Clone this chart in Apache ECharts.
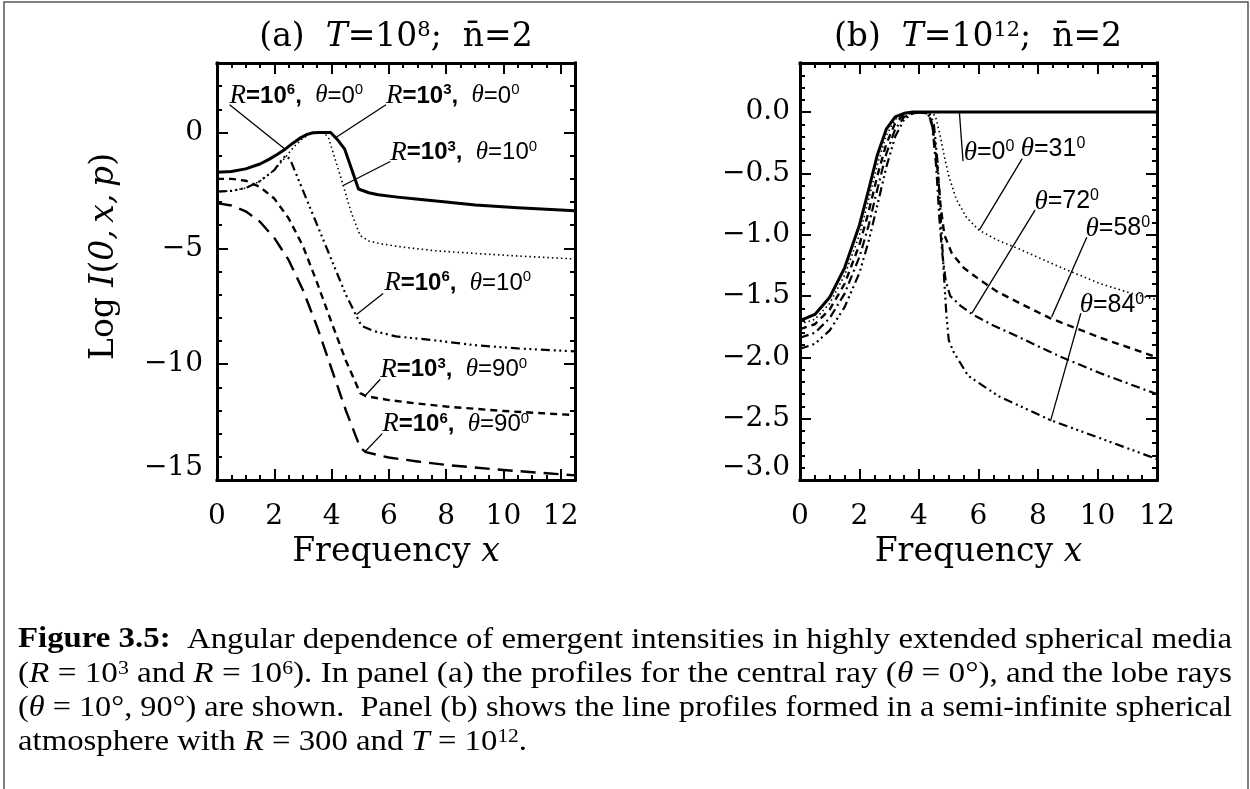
<!DOCTYPE html>
<html>
<head>
<meta charset="utf-8">
<title>Angular dependence of emergent intensities</title>
<script src="https://cdn.jsdelivr.net/npm/echarts@6.0.0/dist/echarts.min.js"></script>
<style>
  html, body { margin: 0; padding: 0; background: #fff; }
  #fig { width: 1250px; height: 789px; }
</style>
</head>
<body>
<div id="fig"></div>
<script>
// ---------- Panel (a): T = 1e8, n̄ = 2  (x, log I) ----------
const aR3Theta0 = [[0,-1.72],[0.5,-1.68],[1.0,-1.57],[1.5,-1.36],[1.83,-1.15],[2.1,-0.95],[2.38,-0.72],
  [2.65,-0.46],[2.93,-0.22],[3.15,-0.08],[3.35,-0.01],[3.6,0],[3.97,0],[4.2,-0.3],[4.46,-0.72],[4.94,-2.44],
  [5.3,-2.6],[5.63,-2.69],[6.3,-2.79],[6.95,-2.87],[8,-3.0],[9.02,-3.13],[10.5,-3.25],[12.5,-3.38]];
const aR3Theta10 = [[0,-2.55],[0.5,-2.52],[1.0,-2.4],[1.5,-2.1],[2.0,-1.62],[2.4,-1.05],[2.7,-0.6],[3.0,-0.25],
  [3.25,-0.06],[3.5,0],[3.75,-0.02],[3.9,-0.25],[4.3,-1.85],[4.7,-3.5],[5.0,-4.45],[5.3,-4.68],[5.7,-4.8],
  [6.5,-4.95],[7.6,-5.1],[9,-5.22],[10.5,-5.33],[12.5,-5.46]];
const aR6Theta10 = [[0,-2.55],[0.5,-2.52],[1.0,-2.4],[1.5,-2.1],[2.0,-1.62],[2.25,-1.2],[2.4,-1.0],[2.55,-1.15],
  [3.0,-2.5],[3.5,-4.0],[4.0,-5.5],[4.5,-7.0],[4.9,-8.0],[5.05,-8.35],[5.5,-8.58],[6.25,-8.8],[7.6,-8.97],
  [9,-9.18],[10.5,-9.32],[12.5,-9.45]];
const aR3Theta90 = [[0,-2.0],[0.5,-2.0],[1.0,-2.08],[1.5,-2.35],[2.0,-2.85],[2.5,-3.7],[3.0,-4.9],[3.5,-6.5],
  [4.0,-8.2],[4.5,-9.85],[5.0,-11.25],[5.2,-11.38],[6,-11.55],[7,-11.7],[8,-11.83],[10,-12.02],[12.5,-12.2]];
const aR6Theta90 = [[0,-3.05],[0.5,-3.15],[1.0,-3.4],[1.5,-3.85],[2.0,-4.55],[2.5,-5.5],[3.0,-6.8],[3.5,-8.4],
  [4.0,-10.2],[4.5,-12.0],[5.0,-13.6],[5.2,-13.8],[6,-14.03],[7,-14.2],[8,-14.35],[10,-14.57],[12.5,-14.8]];

// ---------- Panel (b): T = 1e12, n̄ = 2, R = 300 ----------
const bTheta0 = [[0,-1.70],[0.5,-1.65],[1.0,-1.51],[1.5,-1.27],[2.0,-0.92],[2.3,-0.64],[2.6,-0.35],[2.9,-0.14],
  [3.2,-0.04],[3.5,-0.01],[3.8,0],[12,0]];
const bTheta31 = [[0,-1.73],[0.5,-1.69],[1.0,-1.56],[1.5,-1.33],[2.0,-1.0],[2.3,-0.72],[2.6,-0.43],[2.9,-0.19],
  [3.2,-0.06],[3.5,-0.01],[3.9,0],[4.35,0],[4.55,-0.03],[4.7,-0.18],[4.85,-0.36],[5.0,-0.52],[5.25,-0.71],
  [5.6,-0.86],[6.0,-0.96],[6.6,-1.04],[7.4,-1.12],[8.7,-1.26],[10.1,-1.4],[11.3,-1.49],[12,-1.53]];
const bTheta58 = [[0,-1.77],[0.5,-1.73],[1.0,-1.61],[1.5,-1.4],[2.0,-1.08],[2.3,-0.82],[2.6,-0.52],[2.9,-0.26],
  [3.2,-0.09],[3.5,-0.02],[3.9,0],[4.3,-0.01],[4.45,-0.1],[4.6,-0.4],[4.72,-0.75],[4.85,-1.0],[5.1,-1.15],
  [5.5,-1.27],[6.0,-1.36],[6.6,-1.46],[7.4,-1.56],[8.4,-1.68],[10.1,-1.84],[12,-2.0]];
const bTheta72 = [[0,-1.84],[0.5,-1.8],[1.0,-1.68],[1.5,-1.48],[2.0,-1.18],[2.3,-0.93],[2.6,-0.63],[2.9,-0.34],
  [3.2,-0.14],[3.5,-0.04],[3.9,0],[4.3,-0.01],[4.45,-0.12],[4.58,-0.45],[4.68,-0.85],[4.78,-1.15],[4.9,-1.38],
  [5.05,-1.5],[5.4,-1.58],[5.8,-1.65],[6.5,-1.74],[7.4,-1.84],[8.8,-2.0],[10.1,-2.13],[12,-2.3]];
const bTheta84 = [[0,-1.93],[0.5,-1.89],[1.0,-1.78],[1.5,-1.59],[2.0,-1.31],[2.3,-1.06],[2.6,-0.76],[2.9,-0.45],
  [3.2,-0.2],[3.5,-0.06],[3.8,-0.01],[4.1,0],[4.35,-0.01],[4.5,-0.1],[4.62,-0.4],[4.73,-0.85],[4.83,-1.3],
  [4.92,-1.65],[5.0,-1.86],[5.15,-1.95],[5.65,-2.15],[6.7,-2.32],[8.4,-2.51],[10.1,-2.66],[12,-2.83]];

// ---------- Axis ranges and tick steps ----------
const xRangeA = [0, 12.5], yRangeA = [-15, 3];
const xRangeB = [0, 12],   yRangeB = [-3, 0.4];
const xStep = 2, xMinorStep = 0.5;
const yStepA = 5, yMinorStepA = 1;
const yStepB = 0.5, yMinorStepB = 0.1;

// ---------- Curve annotations (label anchor, leader line from -> to) ----------
const notesA = [
  { r: '6', t: '0',  at: [0.44, 1.58],  from: [0.44, 1.2],   to: [2.38, -0.72] },
  { r: '3', t: '0',  at: [5.9, 1.58],   from: [5.9, 1.2],    to: [4.11, -0.25] },
  { r: '3', t: '10', at: [6.05, -0.86], from: [6.05, -1.25], to: [4.39, -2.3] },
  { r: '6', t: '10', at: [5.84, -6.5],  from: [5.8, -6.95],  to: [4.87, -7.86] },
  { r: '3', t: '90', at: [5.7, -10.24], from: [5.7, -10.65], to: [5.18, -11.35] },
  { r: '6', t: '90', at: [5.77, -12.6], from: [5.77, -13.0], to: [5.15, -13.8] }
];
const notesB = [
  { t: '0',  at: [5.5, -0.33],  from: [5.36, -0.01], to: [5.48, -0.4] },
  { t: '31', at: [7.42, -0.30], from: [7.47, -0.38], to: [6.03, -0.96] },
  { t: '72', at: [7.88, -0.73], from: [7.9, -0.8],   to: [5.78, -1.64] },
  { t: '58', at: [9.6, -0.95],  from: [9.64, -1.02], to: [8.46, -1.67] },
  { t: '84', at: [9.4, -1.57],  from: [9.44, -1.64], to: [8.42, -2.52] }
];

const SERIF = "'DejaVu Serif', serif";
const SANS = "'Liberation Sans', Arial, sans-serif";
const TIMES = "'Liberation Serif', serif";
const MINUS = '\u2212';

// Four axes per side: labelled major, mirrored major, and the two minor-tick axes.
function frameAxes(grid, range, major, minor, horizontal, label, nameCfg) {
  const sideA = horizontal ? 'bottom' : 'left';
  const sideB = horizontal ? 'top' : 'right';
  const base = { type: 'value', gridIndex: grid, min: range[0], max: range[1],
    splitLine: { show: false }, splitArea: { show: false }, minorTick: { show: false }, axisPointer: { show: false } };
  const tick = len => ({ show: true, inside: true, length: len, lineStyle: { color: '#000', width: 2 } });
  const line = show => ({ show: show, onZero: false, lineStyle: { color: '#000', width: 3, cap: 'square' } });
  return [
    Object.assign({}, base, { position: sideA, interval: major, axisLine: line(true), axisTick: tick(11), axisLabel: label }, nameCfg || {}),
    Object.assign({}, base, { position: sideB, interval: major, axisLine: line(true), axisTick: tick(11), axisLabel: { show: false } }),
    Object.assign({}, base, { position: sideA, interval: minor, axisLine: line(false), axisTick: tick(5), axisLabel: { show: false } }),
    Object.assign({}, base, { position: sideB, interval: minor, axisLine: line(false), axisTick: tick(5), axisLabel: { show: false } })
  ];
}

const tickFont = { color: '#000', fontFamily: SERIF, fontSize: 28 };
const lowRich = { lo: { color: '#000', fontFamily: SERIF, fontSize: 28, padding: [0, 0, 24, 0] } };

const xLabel = () => Object.assign({ show: true, margin: 23, showMinLabel: true, showMaxLabel: true,
  formatter: v => (Math.abs(v % 2) < 1e-9 && v <= 12) ? String(v) : '' }, tickFont);

const yLabelA = Object.assign({ show: true, margin: 14, showMinLabel: true, showMaxLabel: true, rich: lowRich,
  formatter: v => {
    if (v > 0) return '';
    const s = v < 0 ? MINUS + (-v) : '0';
    return v === yRangeA[0] ? '{lo|' + s + '}' : s;
  } }, tickFont);

const yLabelB = Object.assign({ show: true, margin: 10, showMinLabel: true, showMaxLabel: true, rich: lowRich,
  formatter: v => {
    if (v > 0.01) return '';
    const s = (v < -1e-9 ? MINUS : '') + Math.abs(v).toFixed(1);
    return Math.abs(v - yRangeB[0]) < 1e-9 ? '{lo|' + s + '}' : s;
  } }, tickFont);

const NAME_SIZE = 33;
const nameRich = {
  r: { fontFamily: SERIF, fontSize: NAME_SIZE, color: '#000' },
  i: { fontFamily: SERIF, fontSize: NAME_SIZE, fontStyle: 'italic', color: '#000' }
};
const xName = { name: '{r|Frequency }{i|x}', nameLocation: 'middle', nameGap: 53,
  nameTextStyle: { rich: nameRich, fontFamily: SERIF, fontSize: NAME_SIZE, color: '#000' } };
const yName = { name: '{r|Log }{i|I}{r|(}{i|0,\u2009x,\u2009p}{r|)}', nameLocation: 'middle', nameGap: 96, nameRotate: 90,
  nameTextStyle: { rich: nameRich, fontFamily: SERIF, fontSize: NAME_SIZE, color: '#000', padding: [0, 0, 0, 30] } };

const xAxes = [].concat(
  frameAxes(0, xRangeA, xStep, xMinorStep, true, xLabel(), xName),
  frameAxes(1, xRangeB, xStep, xMinorStep, true, xLabel(), xName)
);
const yAxes = [].concat(
  frameAxes(0, yRangeA, yStepA, yMinorStepA, false, yLabelA, yName),
  frameAxes(1, yRangeB, yStepB, yMinorStepB, false, yLabelB)
);

// Line styles in the manner of IDL linestyles 0..5
const STYLE = {
  solid:    { type: 'solid', width: 3 },
  dotted:   { type: [1.5, 3], width: 1.6 },
  dashed:   { type: [7, 5], width: 2.4 },
  dashDot:  { type: [9, 4, 2, 4], width: 2.2 },
  dash3dot: { type: [9, 4, 2, 3.5, 2, 3.5, 2, 4], width: 2.2 },
  longDash: { type: [15, 8], width: 2.4 }
};

function curve(grid, data, style, name) {
  return { type: 'line', name: name, xAxisIndex: grid * 4, yAxisIndex: grid * 4, data: data,
    showSymbol: false, symbol: 'none', silent: true, clip: true, z: 3,
    lineStyle: Object.assign({ color: '#000', cap: 'butt', join: 'round' }, style) };
}

const richA = {
  ri:  { fontFamily: TIMES, fontStyle: 'italic', fontSize: 27, color: '#000' },
  rb:  { fontFamily: SANS, fontWeight: 'bold', fontSize: 24, color: '#000' },
  rs:  { fontFamily: SANS, fontWeight: 'bold', fontSize: 15, color: '#000', verticalAlign: 'top' },
  th:  { fontFamily: TIMES, fontStyle: 'italic', fontSize: 25, color: '#000' },
  rn:  { fontFamily: SANS, fontSize: 24, color: '#000' },
  rs2: { fontFamily: SANS, fontSize: 15, color: '#000', verticalAlign: 'top' }
};
const richB = {
  th: { fontFamily: TIMES, fontStyle: 'italic', fontSize: 27, color: '#000' },
  rn: { fontFamily: SANS, fontSize: 25, color: '#000' },
  rs: { fontFamily: SANS, fontSize: 16, color: '#000', verticalAlign: 'top' }
};

function labelSeries(grid, notes, rich, fmt) {
  return { type: 'scatter', xAxisIndex: grid * 4, yAxisIndex: grid * 4, symbolSize: 0, silent: true, z: 5,
    itemStyle: { opacity: 1, color: '#000' },
    data: notes.map(n => ({ value: n.at, label: { formatter: fmt(n) } })),
    label: { show: true, position: 'right', distance: 0, rich: rich, color: '#000', opacity: 1 } };
}
function leaderSeries(grid, notes) {
  return { type: 'lines', coordinateSystem: 'cartesian2d', xAxisIndex: grid * 4, yAxisIndex: grid * 4,
    silent: true, z: 4, symbol: ['none', 'none'],
    lineStyle: { color: '#000', width: 1.3, opacity: 1, curveness: 0 },
    data: notes.map(n => ({ coords: [n.from, n.to] })) };
}

const series = [
  curve(0, aR6Theta90, STYLE.longDash, 'R=1e6 θ=90'),
  curve(0, aR3Theta90, STYLE.dashed, 'R=1e3 θ=90'),
  curve(0, aR6Theta10, STYLE.dash3dot, 'R=1e6 θ=10'),
  curve(0, aR3Theta10, STYLE.dotted, 'R=1e3 θ=10'),
  curve(0, aR3Theta0, STYLE.solid, 'R=1e3 θ=0'),
  curve(1, bTheta84, STYLE.dash3dot, 'θ=84'),
  curve(1, bTheta72, STYLE.dashDot, 'θ=72'),
  curve(1, bTheta58, STYLE.dashed, 'θ=58'),
  curve(1, bTheta31, STYLE.dotted, 'θ=31'),
  curve(1, bTheta0, STYLE.solid, 'θ=0'),
  leaderSeries(0, notesA),
  leaderSeries(1, notesB),
  labelSeries(0, notesA, richA, n => `{ri|R}{rb|=10}{rs|${n.r}}{rb|,  }{th|θ}{rn|=${n.t}}{rs2|0}`),
  labelSeries(1, notesB, richB, n => `{th|θ}{rn|=${n.t}}{rs|0}`)
];

// ---------- Panel titles ----------
const titleRich = {
  t:  { fontFamily: SERIF, fontSize: 33, color: '#000' },
  ti: { fontFamily: SERIF, fontSize: 33, fontStyle: 'italic', color: '#000' },
  ts: { fontFamily: SERIF, fontSize: 21, color: '#000', verticalAlign: 'top' }
};
const titles = [
  { x: 396, text: '{t|(a)  }{ti|T}{t|=10}{ts|8}{t|;  n\u0304=2}' },
  { x: 978, text: '{t|(b)  }{ti|T}{t|=10}{ts|12}{t|;  n\u0304=2}' }
];

// ---------- Caption (justified by horizontal scaling of each line) ----------
const CAP_SIZE = 29;
const captionLines = [
  [['Figure 3.5:', 'b'], ['  Angular dependence of emergent intensities in highly extended spherical media', 'r']],
  [['(', 'r'], ['R', 'i'], [' = 10', 'r'], ['3', 's'], [' and ', 'r'], ['R', 'i'], [' = 10', 'r'], ['6', 's'],
   ['). In panel (a) the profiles for the central ray (', 'r'], ['θ', 'i'], [' = 0°), and the lobe rays', 'r']],
  [['(', 'r'], ['θ', 'i'], [' = 10°, 90°) are shown.  Panel (b) shows the line profiles formed in a semi-infinite spherical', 'r']],
  [['atmosphere with ', 'r'], ['R', 'i'], [' = 300 and ', 'r'], ['T', 'i'], [' = 10', 'r'], ['12', 's'], ['.', 'r']]
];
const capFont = {
  r: `${CAP_SIZE}px 'Liberation Serif'`,
  b: `bold ${CAP_SIZE}px 'Liberation Serif'`,
  i: `italic ${CAP_SIZE}px 'Liberation Serif'`,
  s: `${Math.round(CAP_SIZE * 0.66)}px 'Liberation Serif'`
};
const capRich = {
  r: { fontFamily: TIMES, fontSize: CAP_SIZE, fill: '#000' },
  b: { fontFamily: TIMES, fontSize: CAP_SIZE, fontWeight: 'bold', fill: '#000' },
  i: { fontFamily: TIMES, fontSize: CAP_SIZE, fontStyle: 'italic', fill: '#000' },
  s: { fontFamily: TIMES, fontSize: Math.round(CAP_SIZE * 0.66), fill: '#000', verticalAlign: 'top' }
};
const CAP_LEFT = 18, CAP_WIDTH = 1214, CAP_TOP = 640, CAP_STEP = 34;
const measure = document.createElement('canvas').getContext('2d');
function lineWidth(tokens) {
  return tokens.reduce((w, [t, k]) => { measure.font = capFont[k]; return w + measure.measureText(t).width; }, 0);
}
const capScales = captionLines.map(l => CAP_WIDTH / lineWidth(l));
const justified = capScales.slice(0, 3);
const meanScale = justified.reduce((a, b) => a + b, 0) / justified.length;

const graphics = [
  { type: 'rect', shape: { x: 4, y: 2, width: 1244, height: 820 }, silent: true,
    style: { fill: 'none', stroke: '#555', lineWidth: 1.5 } }
].concat(titles.map(t => ({
  type: 'text', x: t.x, y: 37, silent: true,
  style: { text: t.text, rich: titleRich, align: 'center', verticalAlign: 'middle' }
}))).concat(captionLines.map((l, i) => ({
  type: 'text', x: CAP_LEFT, y: CAP_TOP + i * CAP_STEP, silent: true,
  scaleX: i < 3 ? capScales[i] : meanScale, originX: 0,
  style: { text: l.map(([t, k]) => `{${k}|${t}}`).join(''), rich: capRich, align: 'left', verticalAlign: 'middle' }
})));

const chart = echarts.init(document.getElementById('fig'), null, { renderer: 'canvas' });
chart.setOption({
  backgroundColor: '#fff',
  animation: false,
  grid: [
    { left: 217, top: 63, width: 358, height: 417, outerBoundsMode: 'none', containLabel: false },
    { left: 800, top: 63, width: 357, height: 417, outerBoundsMode: 'none', containLabel: false }
  ],
  xAxis: xAxes,
  yAxis: yAxes,
  series: series,
  graphic: graphics
});
</script>
</body>
</html>
